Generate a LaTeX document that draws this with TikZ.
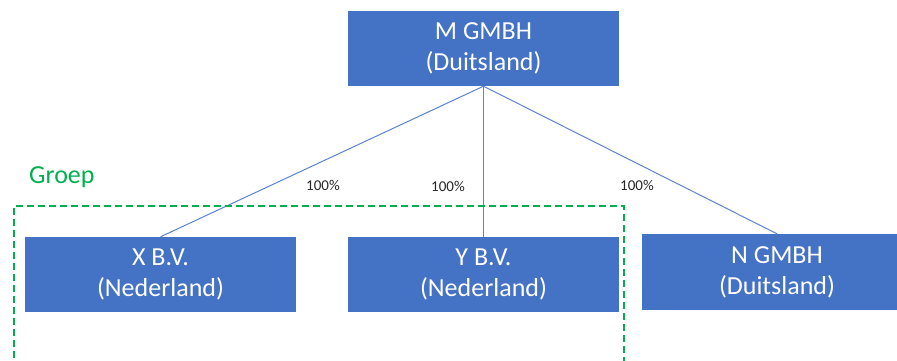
\documentclass[tikz,border=0pt]{standalone}
\usepackage{fontspec}
\setmainfont{Carlito}
\definecolor{boxblue}{HTML}{4472C4}
\definecolor{lineblue}{HTML}{5B84D0}
\definecolor{grpgreen}{HTML}{00B050}
\begin{document}
\begin{tikzpicture}[x=1pt,y=-1pt,
  entity/.style={fill=boxblue, text=white, align=center, inner sep=0pt,
    minimum width=271pt, minimum height=75pt,
    font=\fontsize{26}{31}\selectfont},
  conn/.style={draw=lineblue, line width=1pt},
  pct/.style={font=\fontsize{15}{18}\selectfont, text=black!85, inner sep=0pt}]
\clip (0,0) rectangle (897,360);
\fill[white] (0,0) rectangle (897,360);
\node[entity] (m) at (483.5,48.5) {M GMBH\\(Duitsland)};
\node[entity] (x) at (160.5,274.5) {X B.V.\\(Nederland)};
\node[entity] (y) at (483.5,274.5) {Y B.V.\\(Nederland)};
\node[entity, minimum height=76pt] (n) at (777,272) {N GMBH\\(Duitsland)};
\draw[conn] (m.south) -- (x.north);
\draw[conn] (m.south) -- (y.north);
\draw[conn] (m.south) -- (n.north);
\node[pct] (p1) at (323,185) {100\%};
\node[pct] (p2) at (448,186) {100\%};
\node[pct] (p3) at (637,185) {100\%};
\draw[grpgreen, line width=2.2pt, dash pattern=on 7pt off 4pt] (14,380) -- (14,206) -- (624,206) -- (624,380);
\node[anchor=base west, text=grpgreen, inner sep=0pt, font=\fontsize{26}{30}\selectfont] (g) at (29,183) {Groep};
\end{tikzpicture}
\end{document}
